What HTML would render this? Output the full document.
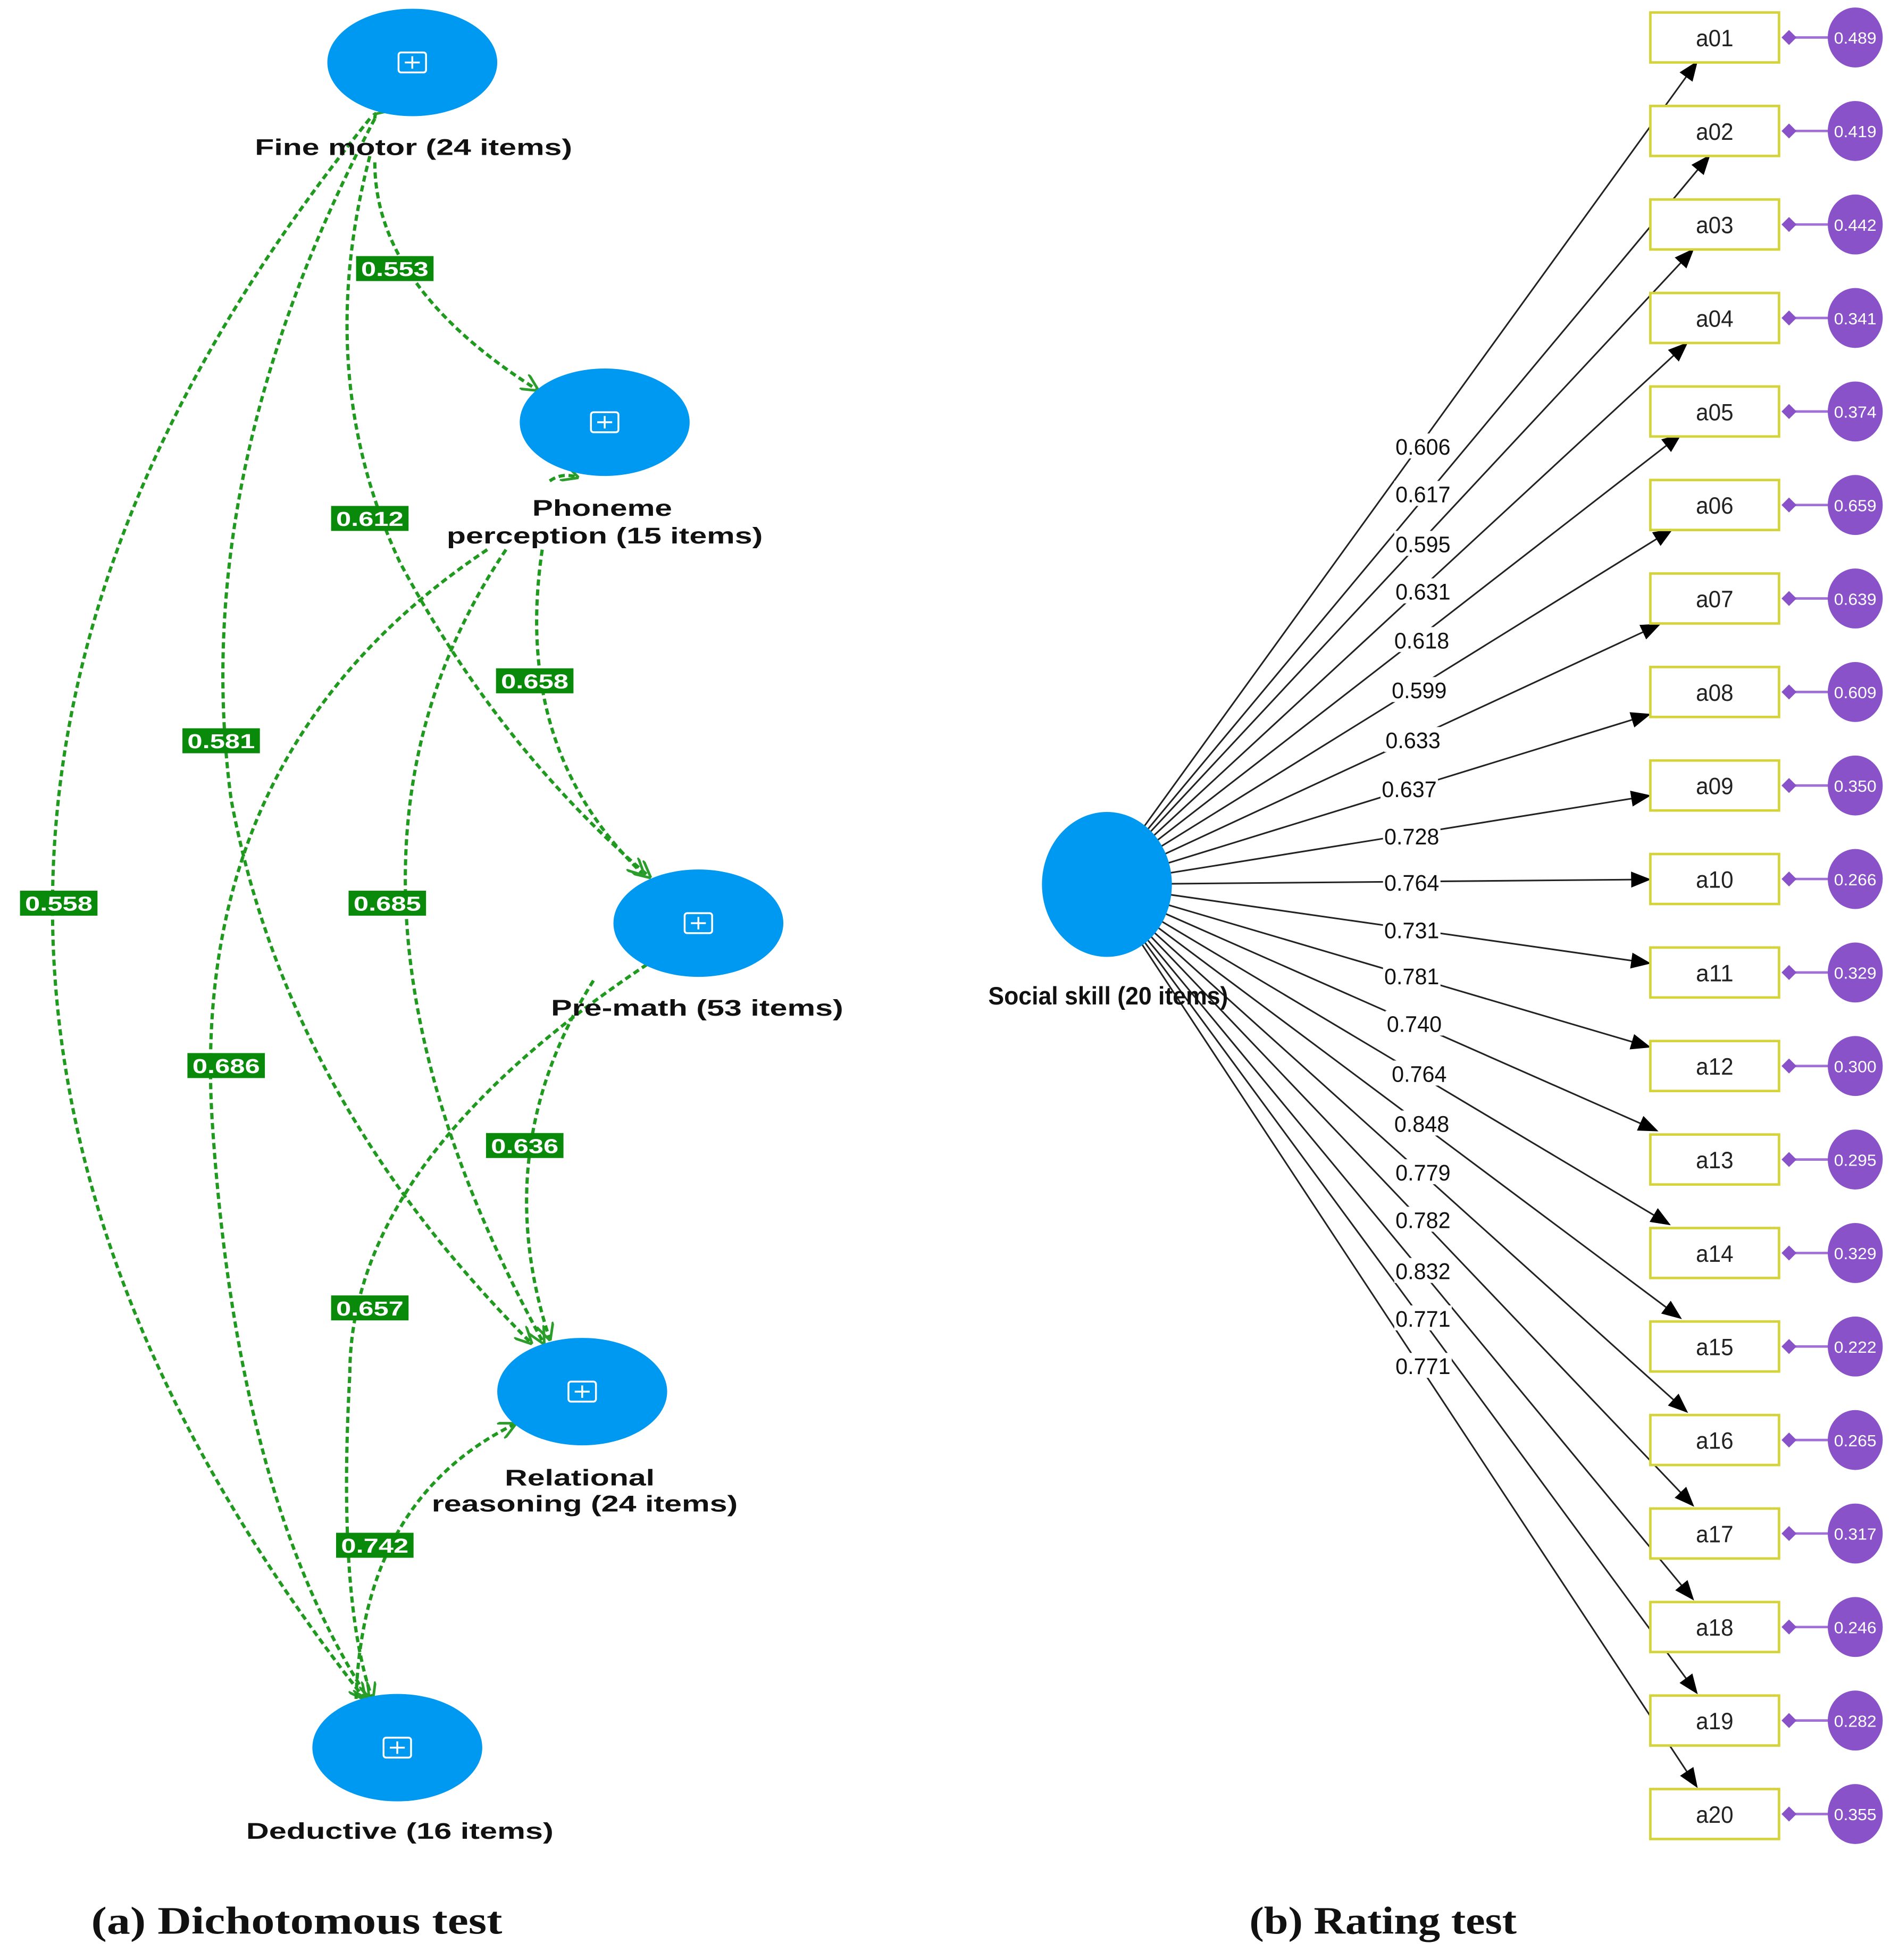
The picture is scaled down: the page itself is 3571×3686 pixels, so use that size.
<!DOCTYPE html>
<html><head><meta charset="utf-8"><style>
html,body{margin:0;padding:0;background:#fff;}
svg{display:block}
</style></head><body>
<svg id="s" width="3571" height="3686" viewBox="0 0 1520 1569" xmlns="http://www.w3.org/2000/svg">
<defs>
<marker id="ga" viewBox="0 0 10 10" refX="9" refY="5" markerWidth="14" markerHeight="14" markerUnits="userSpaceOnUse" orient="auto"><path d="M0,0 L10,5 L0,10" fill="none" stroke="#2a9d2a" stroke-width="1.5"/></marker>
<marker id="ba" viewBox="0 0 10 10" refX="9" refY="5" markerWidth="16" markerHeight="16" markerUnits="userSpaceOnUse" orient="auto"><path d="M0,1 L10,5 L0,9 z" fill="#000"/></marker>
</defs>
<g id="green" fill="none" stroke="#1f9a1f" stroke-width="2.6" stroke-dasharray="5,3">
<path d="M300,130 Q300,230 430,312" marker-end="url(#ga)"/>
<path d="M296,95 Q-210,720 292,1360" marker-end="url(#ga)"/>
<path d="M300,95 Q150,380 185,640 Q230,880 425,1075" marker-end="url(#ga)"/>
<path d="M296,125 Q250,300 320,450 Q400,600 520,702" marker-end="url(#ga)"/>
<path d="M434,440 Q410,600 515,700" marker-end="url(#ga)"/>
<path d="M405,440 Q230,700 435,1075" marker-end="url(#ga)"/>
<path d="M390,440 Q150,600 170,900 Q190,1200 295,1360" marker-end="url(#ga)"/>
<path d="M475,785 Q390,920 440,1072" marker-end="url(#ga)"/>
<path d="M518,772 Q280,930 280,1100 Q270,1280 298,1360" marker-end="url(#ga)"/>
<path d="M285,1360 Q290,1200 412,1140" marker-end="url(#ga)"/>
<path d="M300,95 Q300,85 312,88" marker-end="url(#ga)"/>
<path d="M440,385 Q450,378 462,382" marker-end="url(#ga)"/>
</g>
<g fill="#0099f2">
<ellipse cx="330" cy="50" rx="68" ry="43"/>
<ellipse cx="484" cy="338" rx="68" ry="43"/>
<ellipse cx="559" cy="739" rx="68" ry="43"/>
<ellipse cx="466" cy="1114" rx="68" ry="43"/>
<ellipse cx="318" cy="1399" rx="68" ry="43"/>
</g>
<g fill="none" stroke="#fff" stroke-width="1.5" id="plus"></g>
<g font-family="Liberation Sans, sans-serif" font-weight="bold" font-size="18" text-anchor="middle" fill="#111" lengthAdjust="spacingAndGlyphs">
<text x="331" y="124" textLength="254" lengthAdjust="spacingAndGlyphs">Fine motor (24 items)</text>
<text x="482" y="413" textLength="112" lengthAdjust="spacingAndGlyphs">Phoneme</text>
<text x="484" y="435" textLength="253" lengthAdjust="spacingAndGlyphs">perception (15 items)</text>
<text x="558" y="813" textLength="234" lengthAdjust="spacingAndGlyphs">Pre-math (53 items)</text>
<text x="464" y="1189" textLength="120" lengthAdjust="spacingAndGlyphs">Relational</text>
<text x="468" y="1210" textLength="245" lengthAdjust="spacingAndGlyphs">reasoning (24 items)</text>
<text x="320" y="1472" textLength="246" lengthAdjust="spacingAndGlyphs">Deductive (16 items)</text>
</g>
<g id="glab" font-family="Liberation Sans, sans-serif" font-weight="bold" font-size="16" text-anchor="middle" fill="#fff"></g>
<g id="black" stroke="#222" stroke-width="1.3"></g>
<ellipse cx="886" cy="708" rx="52" ry="58" fill="#0099f2"/>
<text x="887" y="804" font-family="Liberation Sans, sans-serif" font-weight="bold" font-size="20" text-anchor="middle" textLength="192" lengthAdjust="spacingAndGlyphs" fill="#111">Social skill (20 items)</text>
<g id="items"></g>
<g font-family="Liberation Serif, serif" font-weight="bold" font-size="31" fill="#111">
<text x="73" y="1548" textLength="329" lengthAdjust="spacingAndGlyphs">(a)  Dichotomous test</text>
<text x="1000" y="1548" textLength="214" lengthAdjust="spacingAndGlyphs">(b) Rating test</text>
</g>
</svg>
<script>
var NS="http://www.w3.org/2000/svg";
function el(p,t,a,txt){var e=document.createElementNS(NS,t);for(var k in a)e.setAttribute(k,a[k]);if(txt)e.textContent=txt;p.appendChild(e);return e;}
var plus=document.getElementById('plus');
[[330,50],[484,338],[559,739],[466,1114],[318,1399]].forEach(function(c){
 el(plus,'rect',{x:c[0]-11,y:c[1]-8,width:22,height:16,rx:2});
 el(plus,'path',{d:'M'+(c[0]-6)+','+c[1]+'h12M'+c[0]+','+(c[1]-5)+'v10'});
});
var gl=document.getElementById('glab');
[["0.553",316,215],["0.612",296,415],["0.658",428,545],["0.581",177,593],["0.558",47,723],["0.685",310,723],["0.686",181,853],["0.636",420,917],["0.657",296,1047],["0.742",300,1237]].forEach(function(l){
 el(gl,'rect',{x:l[1]-31,y:l[2]-10,width:62,height:20,fill:'#0a8a0a'});
 el(gl,'text',{x:l[1],y:l[2]+6,textLength:54,lengthAdjust:'spacingAndGlyphs'},l[0]);
});
var bl=document.getElementById('black'),it=document.getElementById('items');
var tips=[[1358,50],[1368,125],[1355,200],[1350,275],[1345,348],[1338,424],[1328,500],[1320,572],[1320,637],[1320,704],[1320,771],[1320,838],[1326,905],[1336,980],[1345,1055],[1350,1130],[1355,1205],[1355,1280],[1358,1355],[1358,1430]];
var labs=[["0.606",358],["0.617",396],["0.595",436],["0.631",474],["0.618",513],["0.599",553],["0.633",593],["0.637",632],["0.728",670],["0.764",707],["0.731",745],["0.781",782],["0.740",820],["0.764",860],["0.848",900],["0.779",939],["0.782",977],["0.832",1018],["0.771",1056],["0.771",1094]];
var lx=[1139,1139,1139,1139,1138,1136,1131,1128,1130,1130,1130,1130,1132,1136,1138,1139,1139,1139,1139,1139];
var vals=["0.489","0.419","0.442","0.341","0.374","0.659","0.639","0.609","0.350","0.266","0.329","0.300","0.295","0.329","0.222","0.265","0.317","0.246","0.282","0.355"];
var cx=886,cy=708;
tips.forEach(function(t,i){
 var a=Math.atan2(t[1]-cy,t[0]-cx);
 var sx=cx+50*Math.cos(a), sy=cy+56*Math.sin(a);
 el(bl,'line',{x1:sx,y1:sy,x2:t[0],y2:t[1],'marker-end':'url(#ba)'});
});
var lg=el(document.getElementById('s'),'g',{'font-family':'Liberation Sans, sans-serif','font-size':'18','text-anchor':'middle',fill:'#111'});
labs.forEach(function(l,i){
 el(lg,'rect',{x:lx[i]-23,y:l[1]-11,width:46,height:20,fill:'#fff'});
 el(lg,'text',{x:lx[i],y:l[1]+6,textLength:44,lengthAdjust:'spacingAndGlyphs'},l[0]);
});
for(var i=0;i<20;i++){
 var y=30+i*74.85;
 el(it,'rect',{x:1321,y:y-20,width:103,height:40,fill:'#fff',stroke:'#d4d43a','stroke-width':2});
 el(it,'text',{x:1372.5,y:y+7,'font-family':'Liberation Sans, sans-serif','font-size':19,'text-anchor':'middle',fill:'#222',textLength:30,lengthAdjust:'spacingAndGlyphs'},'a'+(i+1<10?'0':'')+(i+1));
 el(it,'line',{x1:1432,y1:y,x2:1464,y2:y,stroke:'#a070d8','stroke-width':2});
 el(it,'path',{d:'M1426,'+y+' l6,-6 l6,6 l-6,6z',fill:'#8a52c8'});
 el(it,'ellipse',{cx:1485,cy:y,rx:22,ry:24,fill:'#8a52c8'});
 el(it,'text',{x:1485,y:y+5,'font-family':'Liberation Sans, sans-serif','font-size':13,'text-anchor':'middle',fill:'#fff',textLength:34,lengthAdjust:'spacingAndGlyphs'},vals[i]);
}
</script>
</body></html>
